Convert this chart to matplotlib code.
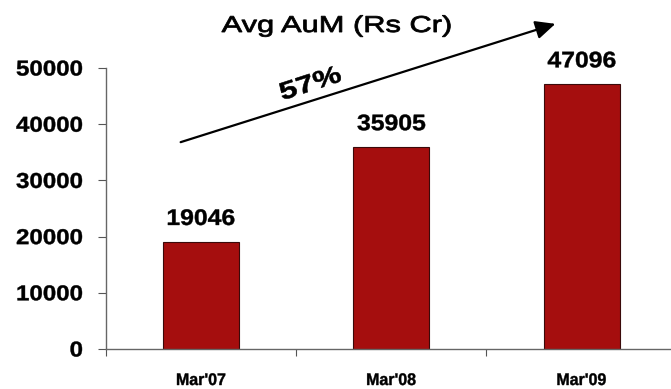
import matplotlib
matplotlib.use('Agg')
import matplotlib.pyplot as plt
from matplotlib.textpath import TextPath
from matplotlib.patches import PathPatch, FancyArrowPatch
from matplotlib.font_manager import FontProperties
from matplotlib.transforms import Affine2D

years = ["Mar'07", "Mar'08", "Mar'09"]
aum = [19046, 35905, 47096]
yticks = [0, 10000, 20000, 30000, 40000, 50000]
title = 'Avg AuM (Rs Cr)'
growth_label = '57%'

W, H = 671, 389
fig = plt.figure(figsize=(W / 100, H / 100), dpi=100)
ax = fig.add_axes([106 / W, 1 - 349 / H, 1 - 106 / W, (349 - 68) / H])


def put_text(s, x, y, size, sx=1.0, weight='normal', ha='center', va='baseline',
             rotation=0, stroke=0.0):
    """Text as a filled glyph path, x/y in pixels from the top-left, sx widens the glyphs."""
    tp = TextPath((0, 0), s, size=size, prop=FontProperties(family='Liberation Sans', weight=weight))
    ext = tp.get_extents()
    dx = {'left': ext.x0, 'center': (ext.x0 + ext.x1) / 2, 'right': ext.x1}[ha]
    dy = {'baseline': 0, 'center': (ext.y0 + ext.y1) / 2, 'top': ext.y1}[va]
    tr = Affine2D().translate(-dx, -dy).scale(sx, 1).rotate_deg(rotation).translate(x, H - y)
    fig.add_artist(PathPatch(tp, transform=tr, facecolor='black',
                             edgecolor='black' if stroke else 'none', lw=stroke))


def to_px(xd, yd):
    px, py = ax.transData.transform((xd, yd))
    return px, H - py


x = list(range(len(years)))
ax.bar(x, aum, width=0.4, color='#a50e0e', edgecolor='#3a0a0a', linewidth=0.8, zorder=2)

ax.set_xlim(-0.5, 2.47)
ax.set_ylim(0, 50000)
ax.set_yticks(yticks)
ax.set_xticks([-0.5, 0.5, 1.5])
ax.tick_params(axis='x', length=5, direction='out', color='#555555', labelbottom=False)
ax.tick_params(axis='y', length=6, direction='out', color='#555555', labelleft=False)
for side in ['top', 'right']:
    ax.spines[side].set_visible(False)
for side in ['left', 'bottom']:
    ax.spines[side].set_color('#666666')
    ax.spines[side].set_linewidth(1.0)

# tick labels
for v in yticks:
    px, py = to_px(-0.5, v)
    put_text(f'{v}', 82, py + 7.5, 21.5, sx=1.12, weight='bold', ha='right', stroke=0.3)
for xi, lab in zip(x, years):
    px, _ = to_px(xi, 0)
    put_text(lab, px, 385, 16.8, sx=0.95, weight='bold', stroke=0.3)

# value labels above bars
for xi, v in zip(x, aum):
    px, py = to_px(xi, v)
    put_text(f'{v}', px, py - 17, 22.5, sx=1.1, weight='bold', stroke=0.3)

put_text(title, 336, 32, 23, sx=1.34, stroke=0.6)

# growth arrow across the bars
fig.add_artist(FancyArrowPatch(
    (178, H - 143), (558, H - 23), transform=Affine2D(),
    arrowstyle='-|>,head_length=0.6,head_width=0.28', mutation_scale=20,
    color='black', lw=1.6))
put_text(growth_label, 310, 82.5, 24.5, sx=1.3, weight='bold', va='center',
         rotation=18, stroke=0.4)

fig.savefig('out.png', dpi=100)
